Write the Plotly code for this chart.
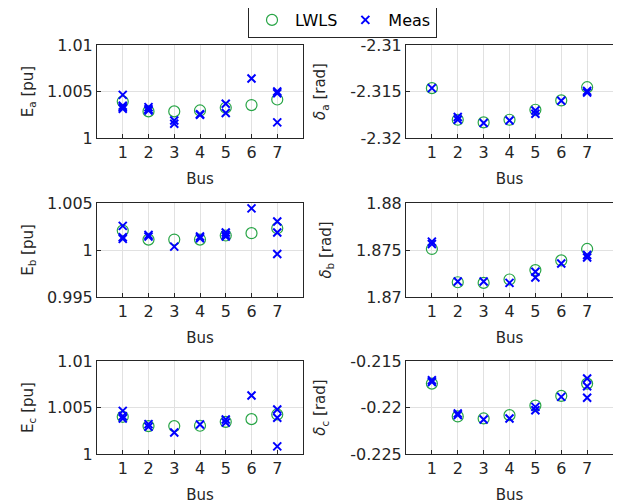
import plotly.graph_objects as go

buses = [1, 2, 3, 4, 5, 6, 7]

lwls_Ea = [1.00393, 1.00286, 1.00286, 1.00296, 1.00325, 1.00354, 1.00414]
meas_Ea = [[1.00464, 1.00346, 1.00314, 1.00330], [1.00332, 1.00310, 1.00296], [1.00189, 1.00154],
           [1.00250, 1.00255], [1.00368, 1.00268], [1.00640], [1.00500, 1.00482, 1.00168]]

lwls_da = [-2.31464, -2.31804, -2.31832, -2.31804, -2.31696, -2.31596, -2.31454]
meas_da = [[-2.31464], [-2.31775, -2.31804], [-2.31839], [-2.31811], [-2.31704, -2.31739],
           [-2.31600], [-2.31493, -2.31511]]

lwls_Eb = [1.00207, 1.00111, 1.00111, 1.00111, 1.00154, 1.00179, 1.00232]
meas_Eb = [[1.00257, 1.00136, 1.00118], [1.00161, 1.00143], [1.00036], [1.00143, 1.00125],
           [1.00186, 1.00161, 1.00143], [1.00443], [1.00304, 1.00186, 0.99957]]

lwls_db = [1.87511, 1.87157, 1.87150, 1.87186, 1.87286, 1.87389, 1.87511]
meas_db = [[1.87589, 1.87564], [1.87164], [1.87164], [1.87150], [1.87268, 1.87207],
           [1.87357], [1.87446, 1.87421]]

lwls_Ec = [1.00400, 1.00300, 1.00300, 1.00304, 1.00346, 1.00375, 1.00425]
meas_Ec = [[1.00464, 1.00407, 1.00382], [1.00321, 1.00293], [1.00232], [1.00318],
           [1.00371, 1.00339], [1.00629], [1.00479, 1.00389, 1.00082]]

lwls_dc = [-0.21743, -0.22096, -0.22118, -0.22082, -0.21979, -0.21875, -0.21743]
meas_dc = [[-0.21707, -0.21725], [-0.22064, -0.22082], [-0.22129], [-0.22118],
           [-0.21993, -0.22029], [-0.21886], [-0.21689, -0.21771, -0.21896]]

panels = [
    ("E<sub>a</sub> [pu]", lwls_Ea, meas_Ea, [1, 1.005, 1.01], ["1", "1.005", "1.01"]),
    ("<i>δ</i><sub>a</sub> [rad]", lwls_da, meas_da, [-2.32, -2.315, -2.31], ["-2.32", "-2.315", "-2.31"]),
    ("E<sub>b</sub> [pu]", lwls_Eb, meas_Eb, [0.995, 1, 1.005], ["0.995", "1", "1.005"]),
    ("<i>δ</i><sub>b</sub> [rad]", lwls_db, meas_db, [1.87, 1.875, 1.88], ["1.87", "1.875", "1.88"]),
    ("E<sub>c</sub> [pu]", lwls_Ec, meas_Ec, [1, 1.005, 1.01], ["1", "1.005", "1.01"]),
    ("<i>δ</i><sub>c</sub> [rad]", lwls_dc, meas_dc, [-0.225, -0.22, -0.215], ["-0.225", "-0.22", "-0.215"]),
]

# the page body has an 8px margin, so the figure is sized/positioned to compensate
W, H = 613, 496
xdom = [(89 / W, 295 / W), (398 / W, 605 / W)]
ydom = [(1 - 130 / H, 1 - 37 / H), (1 - 289 / H, 1 - 195 / H), (1 - 446 / H, 1 - 353 / H)]

green = "rgb(40,165,70)"
blue = "rgb(0,0,255)"
font = "DejaVu Sans, sans-serif"
axcol = "rgb(38,38,38)"

fig = go.Figure()
layout = {}
for i, (title, lw, ms, tv, tt) in enumerate(panels):
    r, c = divmod(i, 2)
    n = i + 1
    xa = "x" if n == 1 else f"x{n}"
    ya = "y" if n == 1 else f"y{n}"
    mx, my = [], []
    for b, vals in zip(buses, ms):
        for v in vals:
            mx.append(b)
            my.append(v)
    fig.add_trace(go.Scatter(x=buses, y=lw, mode="markers", name="LWLS", xaxis=xa, yaxis=ya,
                             marker=dict(symbol="circle-open", size=11, color=green, line=dict(width=1.2, color=green)),
                             showlegend=(i == 0)))
    fig.add_trace(go.Scatter(x=mx, y=my, mode="markers", name="Meas", xaxis=xa, yaxis=ya,
                             marker=dict(symbol="x-thin-open", size=8, color=blue, line=dict(width=2, color=blue)),
                             showlegend=(i == 0)))
    common = dict(showline=True, mirror=True, linecolor=axcol, linewidth=1, ticks="inside", ticklen=4,
                  tickcolor=axcol, showgrid=True, gridcolor="rgb(225,225,225)", gridwidth=1, zeroline=False,
                  automargin=False, tickfont=dict(family=font, size=16, color=axcol))
    layout["xaxis" if n == 1 else f"xaxis{n}"] = dict(
        domain=xdom[c], anchor=ya, range=[0, 8], tickvals=buses, ticktext=[str(b) for b in buses],
        title=dict(text="Bus", font=dict(family=font, size=15, color=axcol), standoff=12), **common)
    layout["yaxis" if n == 1 else f"yaxis{n}"] = dict(
        domain=ydom[r], anchor=xa, range=[tv[0], tv[-1]], tickvals=tv, ticktext=tt,
        title=dict(text=title, font=dict(family=font, size=15, color=axcol), standoff=(9 if c == 0 else 20)),
        **common)

fig.update_layout(**layout)
fig.update_layout(
    width=W, height=H, margin=dict(l=0, r=0, t=0, b=0, autoexpand=False),
    paper_bgcolor="white", plot_bgcolor="white",
    font=dict(family=font, size=15, color="black"),
    legend=dict(orientation="h", x=240 / W, y=1 - 30 / H, xanchor="left", yanchor="bottom",
                bordercolor=axcol, borderwidth=1, bgcolor="white",
                font=dict(family=font, size=16, color="black"), itemwidth=36,
                tracegroupgap=0),
)
fig.write_html("out.html")
